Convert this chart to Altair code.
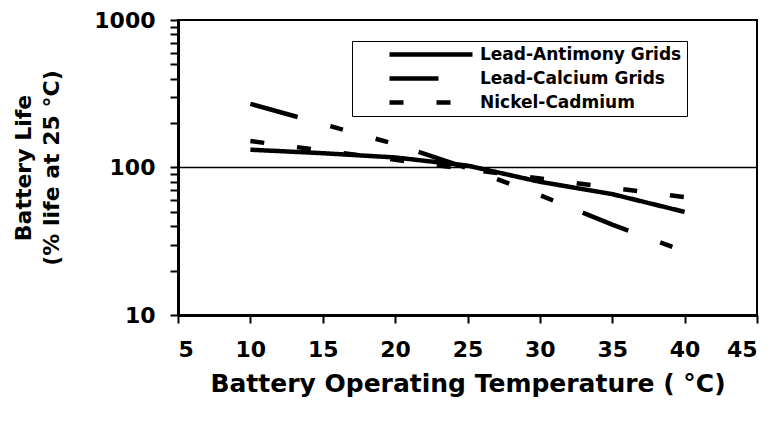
import altair as alt
import pandas as pd

# Series (log y-axis)
series_names = ["Lead-Antimony Grids", "Lead-Calcium Grids", "Nickel-Cadmium"]

sb_temp = [10, 15, 20, 25, 30, 35, 40]
sb_life = [132, 125, 117, 103, 80, 66, 50]

ca_temp = [10, 15, 20, 25, 30, 35, 40]
ca_life = [270, 197, 144, 99, 65, 41, 27]

nicd_temp = [10, 40]
nicd_life = [151, 63]

x_ticks = [5, 10, 15, 20, 25, 30, 35, 40, 45]
y_ticks = [10, 20, 30, 40, 50, 60, 70, 80, 90,
           100, 200, 300, 400, 500, 600, 700, 800, 900, 1000]
ref_value = [100]

rows = []
for t, v in zip(sb_temp, sb_life):
    rows.append({"series": series_names[0], "temp": t, "life": v})
for t, v in zip(ca_temp, ca_life):
    rows.append({"series": series_names[1], "temp": t, "life": v})
for t, v in zip(nicd_temp, nicd_life):
    rows.append({"series": series_names[2], "temp": t, "life": v})
df = pd.DataFrame(rows)

FONT = "DejaVu Sans"

x_enc = alt.X(
    "temp:Q",
    scale=alt.Scale(domain=[5, 45], nice=False, zero=False),
    axis=alt.Axis(
        values=x_ticks,
        title="Battery Operating Temperature ( °C)",
        labelPadding=16,
        titlePadding=11,
        titleFontSize=25,
    ),
)
y_enc = alt.Y(
    "life:Q",
    scale=alt.Scale(type="log", domain=[10, 1000], nice=False),
    axis=alt.Axis(
        values=y_ticks,
        format="d",
        labelExpr="(datum.value == 10 || datum.value == 100 || datum.value == 1000) ? datum.label : ''",
        title=["Battery Life", "(% life at 25 °C)"],
        titlePadding=30,
        titleLineHeight=28,
        labelPadding=15,
    ),
)

ref = alt.Chart(pd.DataFrame({"y": ref_value})).mark_rule(
    color="black", strokeWidth=1.5
).encode(y=alt.Y("y:Q", scale=alt.Scale(type="log", domain=[10, 1000], nice=False)))

lines = alt.Chart(df).mark_line(color="black", strokeWidth=4.5, strokeCap="butt").encode(
    x=x_enc,
    y=y_enc,
    strokeDash=alt.StrokeDash(
        "series:N",
        scale=alt.Scale(
            domain=series_names,
            range=[[1, 0], [49, 34, 13, 34, 13, 32], [14, 33]],
        ),
        legend=alt.Legend(
            title=None,
            orient="none",
            legendX=174,
            legendY=21,
            padding=5,
            symbolOffset=30,
            symbolSize=6889,
            symbolStrokeWidth=4.5,
            symbolStrokeColor="black",
            clipHeight=17,
            labelOffset=5,
            rowPadding=6,
            labelFont=FONT,
            labelFontSize=17,
            labelFontWeight="bold",
            labelColor="black",
            labelLimit=400,
            strokeColor="black",
            fillColor="white",
        ),
    ),
    detail="series:N",
)

chart = (
    alt.layer(ref, lines)
    .properties(
        width=579,
        height=295,
        autosize=alt.AutoSizeParams(type="none"),
        padding={"left": 170, "top": 12, "right": 10, "bottom": 100},
        background="white",
    )
    .configure_view(stroke="black", strokeWidth=2)
    .configure_axis(
        grid=False,
        domainColor="black",
        domainWidth=3,
        tickColor="black",
        tickWidth=2,
        tickSize=8,
        labelColor="black",
        labelFont=FONT,
        labelFontSize=22,
        labelFontWeight="bold",
        titleColor="black",
        titleFont=FONT,
        titleFontSize=22,
        titleFontWeight="bold",
    )
)

chart.save("out.html", embed_options={"renderer": "svg", "actions": False})
